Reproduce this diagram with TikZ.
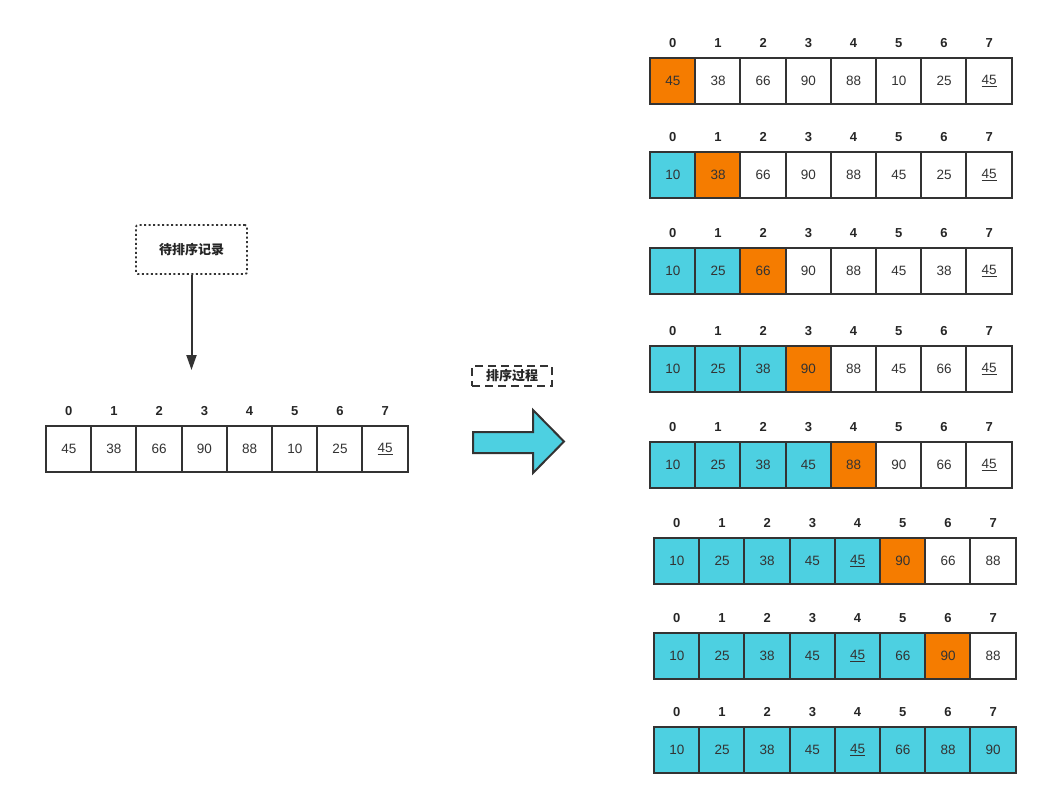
\documentclass[tikz,border=0pt]{standalone}
\usepackage{fontspec}
\setmainfont{Liberation Sans}
\newfontfamily\cjk{Noto Sans CJK SC}
\usetikzlibrary{arrows.meta}
\definecolor{edge}{HTML}{333333}
\definecolor{done}{HTML}{4DD0E1}
\definecolor{pick}{HTML}{F57C00}
\newcommand{\dupkey}{\underline{45}}
\newcommand{\sortrow}[4]{%
  \foreach \val/\col [count=\i from 0] in {#4} {%
    \node[cell, fill=\col] (#1c\i) at ({#2+\i*45.2}, #3) {\val};
    \node[idx] (#1i\i) at ([yshift=15pt]#1c\i.north) {\i};
  }%
  \draw[frame] (#1c0.north west) rectangle (#1c7.south east);
  \foreach \j in {1,...,7} \draw[frame] (#1c\j.north west) -- (#1c\j.south west);
}
\begin{document}
\begin{tikzpicture}[x=1pt, y=-1pt,
    cell/.style={anchor=north west, inner sep=0pt,
      minimum width=45.2pt, minimum height=46pt, text=edge,
      font=\fontsize{13.5}{15}\selectfont},
    frame/.style={draw=edge, line width=2pt},
    idx/.style={text=black!85, font=\bfseries\fontsize{13}{15}\selectfont},
    note/.style={draw=edge, line width=1.8pt, inner sep=0pt, text=black!85,
      font=\cjk\bfseries\fontsize{13}{15}\selectfont}]
    \useasboundingbox (0, 0) rectangle (1062, 798);

    \sortrow{src}{46}{426}{45/white, 38/white, 66/white, 90/white, 88/white, 10/white, 25/white, \dupkey/white}

    \sortrow{a}{650}{58}{45/pick, 38/white, 66/white, 90/white, 88/white, 10/white, 25/white, \dupkey/white}
    \sortrow{b}{650}{152}{10/done, 38/pick, 66/white, 90/white, 88/white, 45/white, 25/white, \dupkey/white}
    \sortrow{c}{650}{248}{10/done, 25/done, 66/pick, 90/white, 88/white, 45/white, 38/white, \dupkey/white}
    \sortrow{d}{650}{346}{10/done, 25/done, 38/done, 90/pick, 88/white, 45/white, 66/white, \dupkey/white}
    \sortrow{e}{650}{442}{10/done, 25/done, 38/done, 45/done, 88/pick, 90/white, 66/white, \dupkey/white}
    \sortrow{f}{654}{538}{10/done, 25/done, 38/done, 45/done, \dupkey/done, 90/pick, 66/white, 88/white}
    \sortrow{g}{654}{633}{10/done, 25/done, 38/done, 45/done, \dupkey/done, 66/done, 90/pick, 88/white}
    \sortrow{h}{654}{727}{10/done, 25/done, 38/done, 45/done, \dupkey/done, 66/done, 88/done, 90/done}

    \node[note, rounded corners=2pt, dash pattern=on 2pt off 2.5pt,
      minimum width=111pt, minimum height=49pt] (pending) at (191.5, 249.5) {待排序记录};
    \coordinate (drop) at (191.5, 370);
    \draw[edge, line width=2pt, -{Triangle[length=15pt, width=10pt]}] (pending) -- (drop);

    \node[note, dash pattern=on 8pt off 5pt,
      minimum width=80pt, minimum height=20pt] (process) at (512, 376) {排序过程};

    \draw[edge, line width=2pt, fill=done, line join=miter]
      (473, 432) -- (533, 432) -- (533, 410) -- (564, 441.5) -- (533, 473)
      -- (533, 453) -- (473, 453) -- cycle;
\end{tikzpicture}
\end{document}
